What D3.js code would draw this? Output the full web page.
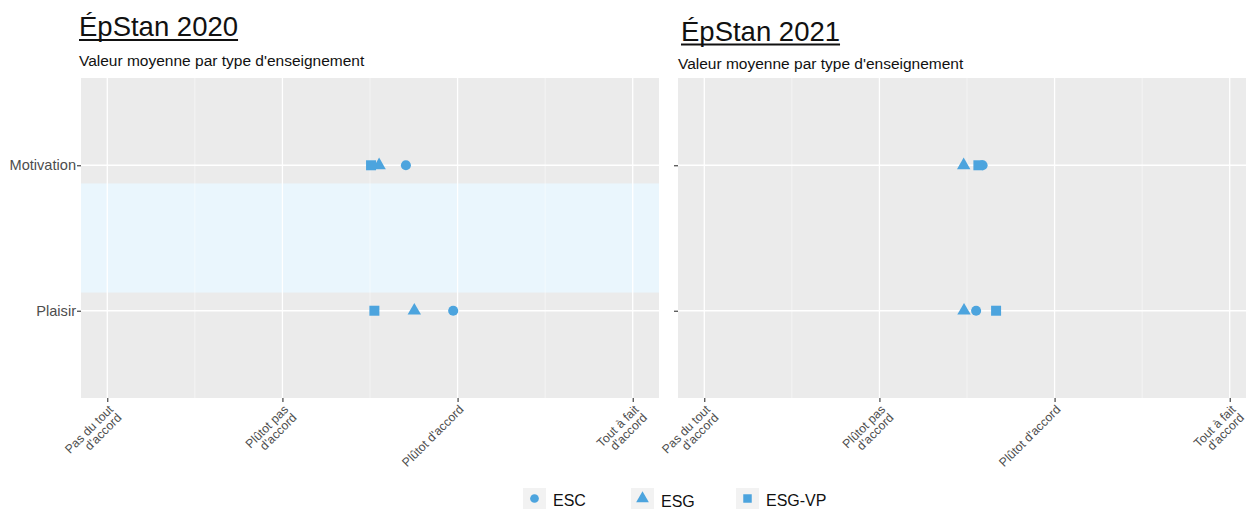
<!DOCTYPE html>
<html>
<head>
<meta charset="utf-8">
<script src="https://cdn.jsdelivr.net/npm/d3@7"></script>
<style>
  html, body { margin: 0; padding: 0; background: #fff; }
  svg { display: block; font-family: "Liberation Sans", Arial, sans-serif; }
</style>
</head>
<body>
<svg id="chart" width="1246" height="509"></svg>
<script>
// ---------- data ----------
const categories = ["Motivation", "Plaisir"];           // top to bottom
const categoryValues = [2, 1];                           // discrete positions (ggplot order)
const seriesNames = ["ESC", "ESG", "ESG-VP"];
const tickValues = [1, 2, 3, 4];
const tickLabels = ["Pas du tout\nd'accord", "Plûtot pas\nd'accord", "Plûtot d'accord", "Tout à fait\nd'accord"];

// 2020 : [Motivation, Plaisir]
const esc2020   = [2.705, 2.975];
const esg2020   = [2.552, 2.753];
const esgvp2020 = [2.506, 2.525];
// 2021 : [Motivation, Plaisir]
const esc2021   = [2.589, 2.552];
const esg2021   = [2.481, 2.483];
const esgvp2021 = [2.565, 2.666];

// highlighted band (2020 panel), in y data units
const highlightBand2020 = [1.125, 1.875];

const panelTitles = ["ÉpStan 2020", "ÉpStan 2021"];
const panelSubtitle = "Valeur moyenne par type d'enseignement";

// ---------- styling / layout ----------
const color = "#4CA4DE";
const svg = d3.select("#chart");
const symbolTypes = { "ESC": d3.symbolCircle, "ESG": d3.symbolTriangle, "ESG-VP": d3.symbolSquare };
const symbolSizes = { "ESC": 80, "ESG": 78, "ESG-VP": 100 };

const panels = [
  { title: panelTitles[0], left: 81, top: 78, width: 578, height: 320,
    titleX: 79, titleY: 36, subX: 79, subY: 66, showYLabels: true,
    data: [esc2020, esg2020, esgvp2020], band: highlightBand2020 },
  { title: panelTitles[1], left: 678, top: 78, width: 578, height: 320,
    titleX: 681, titleY: 40.5, subX: 678, subY: 69, showYLabels: false,
    data: [esc2021, esg2021, esgvp2021], band: null }
];

panels.forEach(p => {
  const g = svg.append("g");
  const x = d3.scaleLinear().domain([0.85, 4.15]).range([p.left, p.left + p.width]);
  const y = d3.scaleLinear().domain([0.4, 2.6]).range([p.top + p.height, p.top]);

  // title (underlined)
  const t = g.append("text").attr("x", p.titleX).attr("y", p.titleY)
    .attr("font-size", 27.5).attr("fill", "#111").text(p.title);
  const tw = t.node().getComputedTextLength();
  g.append("line").attr("x1", p.titleX).attr("x2", p.titleX + tw)
    .attr("y1", p.titleY + 4).attr("y2", p.titleY + 4)
    .attr("stroke", "#111").attr("stroke-width", 2);

  // subtitle
  g.append("text").attr("x", p.subX).attr("y", p.subY)
    .attr("font-size", 15.5).attr("fill", "#111").text(panelSubtitle);

  // panel background
  g.append("rect").attr("x", p.left).attr("y", p.top)
    .attr("width", p.width).attr("height", p.height).attr("fill", "#EBEBEB");

  // highlight band
  if (p.band) {
    g.append("rect").attr("x", p.left).attr("width", p.width)
      .attr("y", y(p.band[1])).attr("height", y(p.band[0]) - y(p.band[1]))
      .attr("fill", "#EAF6FD");
  }

  // minor grid
  const minor = tickValues.slice(0, -1).map(v => v + 0.5);
  g.selectAll(null).data(minor).enter().append("line")
    .attr("x1", d => x(d)).attr("x2", d => x(d))
    .attr("y1", p.top).attr("y2", p.top + p.height)
    .attr("stroke", "#fff").attr("stroke-width", 0.6).attr("stroke-opacity", 0.8);
  // major grid
  g.selectAll(null).data(tickValues).enter().append("line")
    .attr("x1", d => x(d)).attr("x2", d => x(d))
    .attr("y1", p.top).attr("y2", p.top + p.height)
    .attr("stroke", "#fff").attr("stroke-width", 1.3);
  g.selectAll(null).data(categoryValues).enter().append("line")
    .attr("y1", d => y(d)).attr("y2", d => y(d))
    .attr("x1", p.left).attr("x2", p.left + p.width)
    .attr("stroke", "#fff").attr("stroke-width", 1.3);

  // x axis
  const xAxis = d3.axisBottom(x).tickValues(tickValues).tickSize(4).tickFormat("");
  const xa = g.append("g").attr("transform", `translate(0,${p.top + p.height})`).call(xAxis);
  xa.select(".domain").remove();
  xa.selectAll(".tick line").attr("stroke", "#333").attr("stroke-width", 1.1);
  xa.selectAll(".tick").each(function(d, i) {
    const lines = tickLabels[i].split("\n");
    const txt = d3.select(this).append("text")
      .attr("transform", "translate(0,6) rotate(-45)")
      .attr("text-anchor", "end").attr("fill", "#4D4D4D")
      .attr("font-size", 12.3);
    lines.forEach((l, k) => {
      txt.append("tspan").attr("x", 0).attr("dy", k === 0 ? "0.72em" : "0.95em").text(l);
    });
  });

  // y axis
  const yAxis = d3.axisLeft(y).tickValues(categoryValues).tickSize(4)
    .tickFormat(d => p.showYLabels ? categories[categoryValues.indexOf(d)] : "");
  const ya = g.append("g").attr("transform", `translate(${p.left},0)`).call(yAxis);
  ya.select(".domain").remove();
  ya.selectAll(".tick line").attr("stroke", "#333").attr("stroke-width", 1.1);
  ya.selectAll(".tick text").attr("fill", "#4D4D4D").attr("font-size", 14.6)
    .attr("font-family", "Liberation Sans, Arial, sans-serif").attr("x", -5);

  // points
  seriesNames.forEach((s, si) => {
    const vals = p.data[si];
    g.selectAll(null).data(vals).enter().append("path")
      .attr("d", d3.symbol().type(symbolTypes[s]).size(symbolSizes[s]))
      .attr("transform", (d, ci) => `translate(${x(d)},${y(categoryValues[ci])})`)
      .attr("fill", color);
  });
});

// ---------- legend ----------
const legendKeyX = [523, 631, 736];
const legendSyms = { "ESC": 60, "ESG": 70, "ESG-VP": 72 };
const lg = svg.append("g");
seriesNames.forEach((s, i) => {
  const kx = legendKeyX[i];
  lg.append("rect").attr("x", kx).attr("y", 488).attr("width", 23).attr("height", 21)
    .attr("fill", "#F2F2F2");
  lg.append("path").attr("d", d3.symbol().type(symbolTypes[s]).size(legendSyms[s])())
    .attr("transform", `translate(${kx + 11.5},${498.5})`).attr("fill", color);
  lg.append("text").attr("x", kx + 30).attr("y", s === "ESG" ? 506.5 : 505.5)
    .attr("font-size", 16).attr("fill", "#111").text(s);
});
</script>
</body>
</html>
